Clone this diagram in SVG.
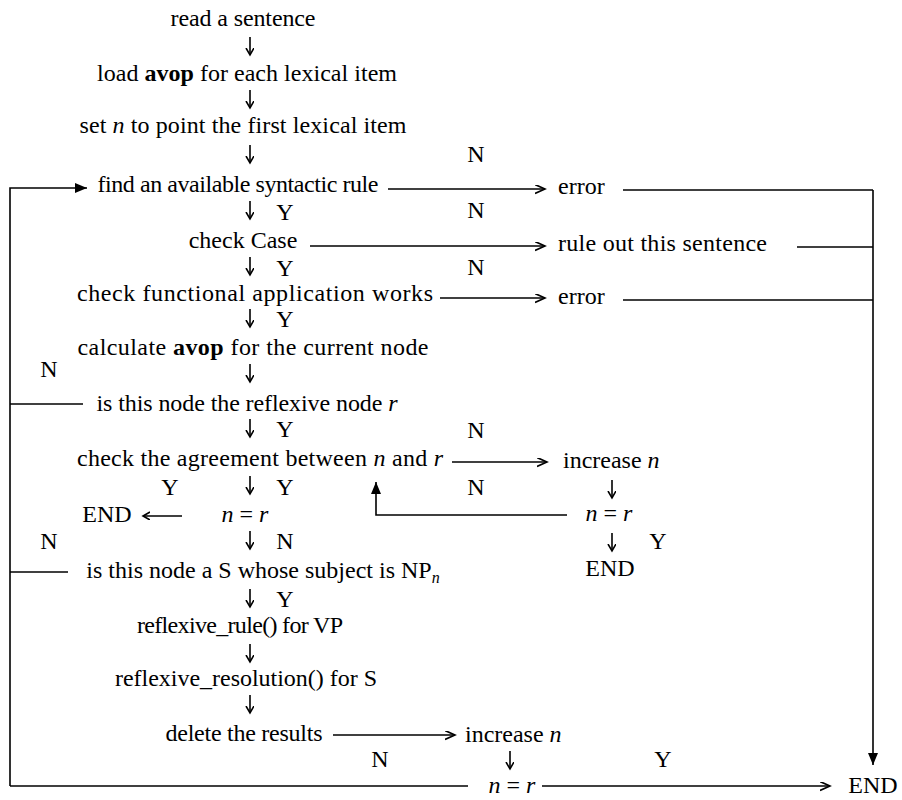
<svg xmlns="http://www.w3.org/2000/svg" width="902" height="800" viewBox="0 0 902 800">
<style>
.t{font-family:"Liberation Serif","Times New Roman",serif;font-size:24px;fill:#000}
.m{text-anchor:middle}
.i{font-style:italic}
.b{font-weight:bold}
.ln{stroke:#000;stroke-width:1.6;fill:none}
</style>
<defs>
<marker id="open" markerUnits="userSpaceOnUse" markerWidth="12" markerHeight="12" refX="10" refY="4.5" orient="auto"><path d="M0,0 L10,4.5 L0,9" fill="none" stroke="#000" stroke-width="1.6"/></marker>
<marker id="vopen" markerUnits="userSpaceOnUse" markerWidth="10" markerHeight="10" refX="7" refY="4" orient="auto"><path d="M0,0 L7,4 L0,8" fill="none" stroke="#000" stroke-width="1.6"/></marker>
<marker id="fill" markerUnits="userSpaceOnUse" markerWidth="14" markerHeight="12" refX="12" refY="5" orient="auto"><path d="M0,0 L12,5 L0,10 z" fill="#000"/></marker>
</defs>
<rect width="902" height="800" fill="#fff"/>
<g id="connectors" class="ln">
<path d="M250,37 V55" marker-end="url(#vopen)"/>
<path d="M250,90 V108" marker-end="url(#vopen)"/>
<path d="M250,145 V163" marker-end="url(#vopen)"/>
<path d="M250,201 V219" marker-end="url(#vopen)"/>
<path d="M250,257 V275" marker-end="url(#vopen)"/>
<path d="M250,309 V327" marker-end="url(#vopen)"/>
<path d="M250,364 V382" marker-end="url(#vopen)"/>
<path d="M250,419 V437" marker-end="url(#vopen)"/>
<path d="M250,476 V494" marker-end="url(#vopen)"/>
<path d="M250,531 V549" marker-end="url(#vopen)"/>
<path d="M250,589 V607" marker-end="url(#vopen)"/>
<path d="M250,644 V662" marker-end="url(#vopen)"/>
<path d="M250,695 V713" marker-end="url(#vopen)"/>
<path d="M612,480 V498" marker-end="url(#vopen)"/>
<path d="M612,533 V551" marker-end="url(#vopen)"/>
<path d="M510,751 V769" marker-end="url(#vopen)"/>
<path d="M388,189 H545" marker-end="url(#open)"/>
<path d="M310,246 H545" marker-end="url(#open)"/>
<path d="M440,298 H545" marker-end="url(#open)"/>
<path d="M452,462 H547" marker-end="url(#open)"/>
<path d="M333,735 H455" marker-end="url(#open)"/>
<path d="M542,786 H830" marker-end="url(#open)"/>
<path d="M182,516 H143" marker-end="url(#vopen)"/>
<path d="M623,190 H873"/>
<path d="M797,247 H873"/>
<path d="M623,300 H873"/>
<path d="M873,190 V765" marker-end="url(#fill)"/>
<path d="M567,515 H376 V482" marker-end="url(#fill)"/>
<path d="M10,786 V188 H87" marker-end="url(#fill)"/>
<path d="M10,404 H83"/>
<path d="M10,572 H68"/>
<path d="M10,786 H468"/>
</g>
<g id="n1"><text class="t m" x="243" y="26" textLength="145">read a sentence</text></g>
<g id="n2"><text class="t m" x="247" y="81" textLength="300">load <tspan class="b">avop</tspan> for each lexical item</text></g>
<g id="n3"><text class="t m" x="243" y="133" textLength="327">set <tspan class="i">n</tspan> to point the first lexical item</text></g>
<g id="n4"><text class="t m" x="238" y="192" textLength="281">find an available syntactic rule</text></g>
<g id="n5"><text class="t m" x="243" y="248">check Case</text></g>
<g id="n6"><text class="t m" x="255" y="301" textLength="356">check functional application works</text></g>
<g id="n7"><text class="t m" x="253" y="355" textLength="351">calculate <tspan class="b">avop</tspan> for the current node</text></g>
<g id="n8"><text class="t m" x="247" y="411" textLength="301">is this node the reflexive node <tspan class="i">r</tspan></text></g>
<g id="n9"><text class="t m" x="260" y="466" textLength="366">check the agreement between <tspan class="i">n</tspan> and <tspan class="i">r</tspan></text></g>
<g id="n10"><text class="t m" x="107" y="522">END</text></g>
<g id="n11"><text class="t m" x="245" y="522"><tspan class="i">n</tspan> = <tspan class="i">r</tspan></text></g>
<g id="n12"><text class="t m" x="263" y="578">is this node a S whose subject is NP<tspan class="i" font-size="16" dy="5">n</tspan></text></g>
<g id="n13"><text class="t m" x="240" y="633" textLength="206">reflexive_rule() for VP</text></g>
<g id="n14"><text class="t m" x="246" y="686" textLength="262">reflexive_resolution() for S</text></g>
<g id="n15"><text class="t m" x="244" y="741" textLength="157">delete the results</text></g>
<g id="n16"><text class="t" x="558" y="194">error</text></g>
<g id="n17"><text class="t" x="558" y="251" textLength="209">rule out this sentence</text></g>
<g id="n18"><text class="t" x="558" y="304">error</text></g>
<g id="n19"><text class="t" x="563" y="468">increase <tspan class="i">n</tspan></text></g>
<g id="n20"><text class="t m" x="609" y="521"><tspan class="i">n</tspan> = <tspan class="i">r</tspan></text></g>
<g id="n21"><text class="t m" x="610" y="576">END</text></g>
<g id="n22"><text class="t" x="465" y="742">increase <tspan class="i">n</tspan></text></g>
<g id="n23"><text class="t m" x="512" y="793"><tspan class="i">n</tspan> = <tspan class="i">r</tspan></text></g>
<g id="n24"><text class="t m" x="873" y="793">END</text></g>
<g id="labels">
<text class="t m" x="476" y="162">N</text>
<text class="t m" x="476" y="218">N</text>
<text class="t m" x="476" y="275">N</text>
<text class="t m" x="476" y="438">N</text>
<text class="t m" x="476" y="495">N</text>
<text class="t m" x="285" y="220">Y</text>
<text class="t m" x="285" y="276">Y</text>
<text class="t m" x="285" y="327">Y</text>
<text class="t m" x="285" y="437">Y</text>
<text class="t m" x="285" y="495">Y</text>
<text class="t m" x="285" y="549">N</text>
<text class="t m" x="285" y="607">Y</text>
<text class="t m" x="170" y="495">Y</text>
<text class="t m" x="49" y="377">N</text>
<text class="t m" x="49" y="549">N</text>
<text class="t m" x="658" y="549">Y</text>
<text class="t m" x="380" y="767">N</text>
<text class="t m" x="663" y="767">Y</text>
</g>
</svg>
